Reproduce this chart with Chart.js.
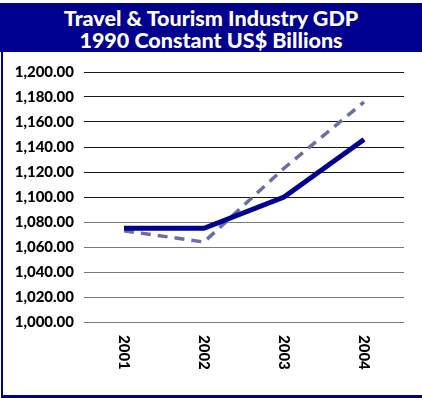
<!DOCTYPE html>
<html>
<head>
<meta charset="utf-8">
<script src="https://cdn.jsdelivr.net/npm/chart.js@4"></script>
<style>
    html, body { margin: 0; padding: 0; background: #fff; }
    .frame {
        position: absolute; left: 1px; top: 3px;
        width: 421px; height: 392px;
        border-left: 2px solid #000090;
        border-bottom: 3px solid #000090;
        box-sizing: content-box;
    }
    .header {
        position: absolute; left: 0; top: 3px;
        width: 422px; height: 49px;
        background: #000090; color: #fff;
        font-family: Lato, sans-serif; font-weight: 900;
        font-size: 21.5px; line-height: 22px;
        text-align: center; padding-top: 4px; box-sizing: border-box;
    }
    .plot { position: absolute; left: 3px; top: 52px; width: 419px; height: 343px; }
</style>
</head>
<body>
<div class="frame"></div>
<div class="header">Travel &amp; Tourism Industry GDP<br>1990 Constant US$ Billions</div>
<div class="plot"><canvas id="gdpChart" width="419" height="343"></canvas></div>
<script>
// Chart data
const years = ['2001', '2002', '2003', '2004'];
const gdpActual = [1075, 1075, 1100, 1146];
const gdpTrend = [1073, 1064, 1123, 1176];
const yMin = 1000;
const yMax = 1200;
const yStep = 20;

const navy = '#000090';
const labelFont = '900 15px Lato, sans-serif';

// Year labels are drawn rotated clockwise, reading top to bottom
const verticalYears = {
    id: 'verticalYears',
    afterDraw(chart) {
        const x = chart.scales.x;
        const c = chart.ctx;
        c.save();
        c.font = labelFont;
        c.fillStyle = '#000';
        c.textAlign = 'left';
        c.textBaseline = 'middle';
        years.forEach((yr, i) => {
            c.save();
            c.translate(x.getPixelForTick(i), x.top + 13);
            c.rotate(Math.PI / 2);
            c.fillText(yr, 0, 0);
            c.restore();
        });
        c.restore();
    }
};

const ctx = document.getElementById('gdpChart').getContext('2d');
const gdpChart = new Chart(ctx, {
    type: 'line',
    data: {
        labels: years,
        datasets: [{
            label: 'GDP',
            data: gdpActual,
            borderColor: navy,
            borderWidth: 5,
            pointRadius: 0,
            tension: 0
        }, {
            label: 'Trend',
            data: gdpTrend,
            borderColor: '#6c6ca6',
            borderWidth: 3.5,
            borderDash: [10, 7],
            pointRadius: 0,
            tension: 0
        }]
    },
    options: {
        responsive: false,
        animation: false,
        layout: { padding: { top: 20, right: 18, left: 0, bottom: 0 } },
        plugins: {
            legend: { display: false },
            tooltip: { enabled: false }
        },
        scales: {
            x: {
                offset: true,
                grid: { display: false },
                border: { display: false },
                ticks: { display: false },
                afterFit(scale) { scale.height = 73; }
            },
            y: {
                min: yMin,
                max: yMax,
                border: { display: false },
                grid: {
                    drawTicks: false,
                    lineWidth: 1,
                    color: c => (c.tick && c.tick.value >= 1100 ? '#1a1a1a' : '#7a7a7a')
                },
                ticks: {
                    stepSize: yStep,
                    padding: 10,
                    color: '#000',
                    font: { family: 'Lato, sans-serif', size: 15, weight: 900 },
                    callback: v => v.toLocaleString('en-US', { minimumFractionDigits: 2, maximumFractionDigits: 2 })
                },
                afterFit(scale) { scale.width = 81; }
            }
        }
    },
    plugins: [verticalYears]
});
</script>
</body>
</html>
